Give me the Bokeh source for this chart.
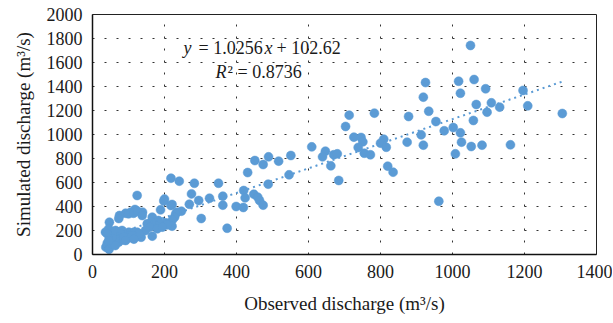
from bokeh.plotting import figure
from bokeh.models import Label, ColumnDataSource, FixedTicker, Range1d
from bokeh.embed import file_html
from bokeh.resources import INLINE

# ---- data ----
observed = [1050, 1017, 1060, 1022, 1092, 1196, 1066, 1108, 1131, 1096, 1209, 1305, 1058, 977, 1002,
            1022, 1025, 1052, 1082, 1161, 1008, 962,
            925, 919, 934, 954, 878, 913, 874, 919, 783, 713, 703, 609, 726, 746, 751, 738, 755, 772,
            809, 800, 816, 647, 639, 670, 680, 662, 684, 820, 835,
            451, 489, 474, 517, 551, 546, 431, 488, 218, 241, 283, 350, 275, 269, 295, 325, 362, 362,
            420, 424, 448, 459, 464, 474, 399, 419, 302, 374,
            124, 200, 198, 221, 218, 189, 139, 118, 106, 92, 100, 114, 125, 138, 75, 73, 247, 235, 231,
            228, 222, 166, 203, 212, 221, 207, 183, 175, 163, 152, 159, 166, 180, 194, 147, 135, 124,
            115, 101, 94, 106, 47, 45, 36, 50, 59, 68, 77, 82, 59, 68, 50, 41, 37, 46, 54, 73, 63, 86,
            101, 54, 64, 82, 129, 87, 92, 110, 115, 41, 45]
simulated = [1742, 1444, 1458, 1344, 1381, 1367, 1250, 1264, 1228, 1186, 1239, 1175, 1117, 1031, 1058,
             1014, 936, 900, 911, 914, 839, 444,
             1433, 1311, 1194, 1108, 1150, 997, 936, 911, 1178, 1161, 1067, 897, 978, 975, 939, 892, 844, 831,
             961, 928, 894, 861, 814, 831, 839, 739, 617, 736, 686,
             783, 814, 750, 778, 825, 664, 683, 586, 636, 611, 594, 594, 505, 419, 450, 469, 486, 411,
             533, 472, 503, 478, 450, 411, 400, 392, 300, 219,
             492, 462, 446, 417, 408, 372, 353, 375, 353, 344, 339, 344, 361, 325, 325, 300, 361, 353, 339,
             311, 289, 311, 264, 250, 236, 247, 283, 242, 269, 256, 228, 153, 214, 228, 200, 144, 186,
             186, 186, 158, 144, 269, 214, 186, 172, 158, 164, 186, 150, 130, 122, 111, 94, 61, 44, 89, 103, 75, 122,
             139, 144, 200, 200, 172, 144, 117, 158, 128, 172, 117]

slope = 1.0256
intercept = 102.62
r_squared = 0.8736

x_ticks = [0, 200, 400, 600, 800, 1000, 1200, 1400]
y_ticks = [0, 200, 400, 600, 800, 1000, 1200, 1400, 1600, 1800, 2000]

x_label = "Observed discharge (m³/s)"
y_label = "Simulated discharge (m³/s)"

BLUE = "#5B9BD5"
FONT = "Liberation Serif"
TXT = "#1a1a1a"

p = figure(width=612, height=322, output_backend="svg", toolbar_location=None,
           x_range=Range1d(0, 1400), y_range=Range1d(0, 2000),
           min_border_left=92, min_border_right=16, min_border_top=14, min_border_bottom=68)
p.background_fill_color = "white"
p.border_fill_color = "white"
p.outline_line_color = "#222222"
p.outline_line_width = 1

for ax, ticks in ((p.xaxis, x_ticks), (p.yaxis, y_ticks)):
    ax.ticker = FixedTicker(ticks=ticks)
    ax.major_tick_line_color = None
    ax.minor_tick_line_color = None
    ax.major_tick_in = 0
    ax.major_tick_out = 0
    ax.axis_line_color = "#111111"
    ax.axis_line_width = 1.5
    ax.major_label_text_font = FONT
    ax.major_label_text_font_size = "18px"
    ax.major_label_text_color = TXT
    ax.axis_label_text_font = FONT
    ax.axis_label_text_font_size = "19px"
    ax.axis_label_text_font_style = "normal"
    ax.axis_label_text_color = TXT

p.xaxis.axis_label = x_label
p.yaxis.axis_label = y_label
p.xaxis.major_label_standoff = 10
p.yaxis.major_label_standoff = 10
p.xaxis.axis_label_standoff = 12
p.yaxis.axis_label_standoff = 10

for g in (p.xgrid, p.ygrid):
    g.grid_line_color = "#333333"
    g.grid_line_dash = "2 10"
    g.grid_line_width = 1

src = ColumnDataSource(dict(x=observed, y=simulated))
p.scatter("x", "y", source=src, size=9, fill_color=BLUE, line_color=BLUE, line_width=0.5)

# trend line over the observed range
x0, x1 = min(observed), max(observed)
p.line([x0, x1], [slope * x0 + intercept, slope * x1 + intercept],
       line_color=BLUE, line_width=2, line_dash="2 4")

# equation text
eq_x, eq_y1, eq_y2 = 253, 1717, 1517
common = dict(text_font=FONT, text_font_size="18px", text_color=TXT, text_baseline="middle")
p.add_layout(Label(x=eq_x, y=eq_y1, text="y", text_font_style="italic", **common))
p.add_layout(Label(x=eq_x, y=eq_y1, x_offset=15, text=f"= {slope}", **common))
p.add_layout(Label(x=eq_x, y=eq_y1, x_offset=81, text="x", text_font_style="italic", **common))
p.add_layout(Label(x=eq_x, y=eq_y1, x_offset=93, text=f"+ {intercept}", **common))
p.add_layout(Label(x=eq_x, y=eq_y2, x_offset=32, text="R", text_font_style="italic", **common))
p.add_layout(Label(x=eq_x, y=eq_y2, x_offset=44, text=f"² = {r_squared}", **common))

open("out.html", "w").write(file_html(p, INLINE))
